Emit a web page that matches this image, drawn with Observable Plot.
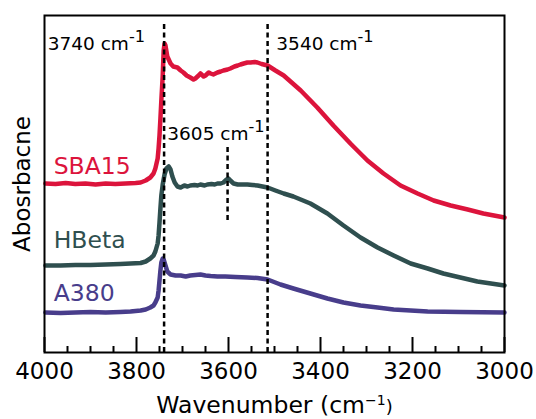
<!DOCTYPE html>
<html>
<head>
<meta charset="utf-8">
<script src="https://cdn.jsdelivr.net/npm/d3@7"></script>
<script src="https://cdn.jsdelivr.net/npm/@observablehq/plot@0.6"></script>
<style>
  html, body { margin: 0; padding: 0; background: white; }
  #chart svg { display: block; }
</style>
</head>
<body>
<div id="chart"></div>
<script>
// ---- Data ----
const seriesNames = ["SBA15", "HBeta", "A380"];
const seriesColors = ["#dc143c", "#2f4f4f", "#483d8b"];

const sba15Wn = [3998,3976,3954,3933,3911,3889,3867,3846,3824,3802,3791,3780,3770,3763,3759,3754,3752,3750,3748,3746,3743,3741,3739,3737,3733,3726,3720,3711,3704,3698,3691,3683,3676,3672,3665,3661,3654,3650,3643,3639,3633,3624,3617,3611,3602,3596,3587,3580,3574,3567,3559,3552,3543,3537,3528,3515,3498,3480,3443,3407,3372,3335,3298,3263,3226,3189,3154,3117,3080,3046,3000];
const sba15Abs = [1.69,1.685,1.695,1.685,1.69,1.68,1.69,1.685,1.69,1.695,1.70,1.72,1.75,1.79,1.84,1.94,2.04,2.17,2.34,2.52,2.77,3.02,3.09,3.07,2.96,2.89,2.86,2.85,2.82,2.80,2.77,2.75,2.73,2.74,2.77,2.79,2.76,2.77,2.80,2.79,2.78,2.80,2.81,2.82,2.83,2.84,2.86,2.87,2.88,2.89,2.90,2.90,2.905,2.90,2.885,2.87,2.82,2.77,2.62,2.45,2.27,2.09,1.92,1.79,1.67,1.59,1.52,1.47,1.43,1.39,1.35];

const hbetaWn = [3998,3965,3933,3900,3867,3835,3813,3791,3780,3770,3763,3759,3754,3752,3750,3748,3746,3743,3739,3735,3730,3726,3722,3717,3711,3704,3696,3689,3683,3674,3667,3661,3652,3646,3637,3630,3624,3617,3611,3604,3600,3596,3589,3580,3570,3559,3548,3537,3526,3515,3498,3480,3459,3422,3385,3350,3313,3276,3241,3204,3167,3133,3096,3059,3000];
const hbetaAbs = [0.87,0.87,0.875,0.875,0.88,0.885,0.89,0.895,0.91,0.94,0.97,1.01,1.09,1.17,1.30,1.44,1.57,1.68,1.78,1.84,1.86,1.83,1.76,1.70,1.66,1.65,1.67,1.66,1.67,1.675,1.67,1.68,1.67,1.68,1.685,1.68,1.69,1.69,1.70,1.73,1.74,1.72,1.69,1.68,1.68,1.68,1.675,1.67,1.66,1.65,1.62,1.59,1.56,1.49,1.39,1.27,1.15,1.05,0.97,0.89,0.84,0.79,0.75,0.71,0.67];

const a380Wn = [3998,3965,3933,3900,3867,3835,3813,3791,3780,3770,3763,3759,3754,3752,3750,3748,3746,3743,3741,3737,3733,3726,3715,3704,3693,3683,3672,3661,3650,3639,3624,3607,3585,3559,3537,3515,3487,3459,3422,3385,3350,3313,3276,3241,3204,3167,3096,3000];
const a380Abs = [0.40,0.395,0.40,0.405,0.40,0.405,0.41,0.42,0.43,0.45,0.47,0.50,0.55,0.62,0.72,0.82,0.90,0.94,0.93,0.87,0.81,0.78,0.77,0.77,0.76,0.77,0.775,0.78,0.77,0.765,0.76,0.76,0.755,0.75,0.745,0.73,0.68,0.64,0.59,0.54,0.50,0.47,0.45,0.43,0.42,0.41,0.405,0.40];

const majorTicks = [4000, 3800, 3600, 3400, 3200, 3000];
const minorTicks = [3950, 3900, 3850, 3750, 3700, 3650, 3550, 3500, 3450, 3350, 3300, 3250, 3150, 3100, 3050];

const peakLabels = ["3740 cm-1", "3540 cm-1", "3605 cm-1"];
const peakLines = [3740, 3515, 3602];

// ---- Build tables ----
const wns = [sba15Wn, hbetaWn, a380Wn];
const abss = [sba15Abs, hbetaAbs, a380Abs];
const seriesData = seriesNames.map((name, i) =>
  wns[i].map((wn, j) => ({series: name, wn, abs: abss[i][j]})));

const lineMarks = seriesData.map((data, i) =>
  Plot.line(data, {x: "wn", y: "abs", stroke: seriesColors[i], strokeWidth: 4.5,
                   strokeLinejoin: "round", strokeLinecap: "round"}));

// series label anchor points (wavenumber, absorbance of text baseline)
const seriesLabelPos = [[3980, 1.79], [3980, 1.05], [3980, 0.52]];
const seriesLabelMarks = seriesNames.map((name, i) =>
  Plot.text([name], {x: () => seriesLabelPos[i][0], y: () => seriesLabelPos[i][1], text: d => d,
    fill: seriesColors[i], fontSize: 23.5, textAnchor: "start", lineAnchor: "bottom"}));

const peakLabelPos = [[3993, 3.03], [3496, 3.03], [3733, 2.125]];
const peakLabelMarks = peakLabels.map((lab, i) =>
  Plot.text([lab], {x: () => peakLabelPos[i][0], y: () => peakLabelPos[i][1], text: d => d,
    fill: "black", fontSize: 18.5, textAnchor: "start", lineAnchor: "bottom"}));

const chart = Plot.plot({
  width: 536,
  height: 419,
  marginTop: 15,
  marginRight: 32,
  marginBottom: 67,
  marginLeft: 44,
  style: {fontFamily: "DejaVu Sans", background: "white", color: "black", overflow: "visible"},
  x: {domain: [4000, 3000]},
  y: {domain: [0, 3.37], axis: null},
  marks: [
    ...lineMarks,
    Plot.ruleX(peakLines.slice(0, 2), {y1: 0, y2: 3.29, stroke: "black", strokeWidth: 2.5, strokeDasharray: "5,3.5"}),
    Plot.ruleX(peakLines.slice(2), {y1: 1.32, y2: 2.05, stroke: "black", strokeWidth: 2.5, strokeDasharray: "5,3.5"}),
    Plot.ruleX(majorTicks, {insetTop: 322, stroke: "black", strokeWidth: 2}),
    Plot.ruleX(minorTicks, {insetTop: 331, stroke: "black", strokeWidth: 2}),
    Plot.axisX({ticks: majorTicks, tickSize: 0, tickPadding: 10, fontSize: 23, label: null,
                tickFormat: d => String(d)}),
    Plot.frame({stroke: "black", strokeWidth: 2}),
    ...seriesLabelMarks,
    ...peakLabelMarks,
    Plot.text(["Wavenumber (cm−1)"], {frameAnchor: "bottom", dy: 60, fontSize: 23.5, textAnchor: "middle", lineAnchor: "bottom", fill: "black"}),
    Plot.text(["Abosrbacne"], {frameAnchor: "left", dx: -22, rotate: -90, fontSize: 23, textAnchor: "middle", lineAnchor: "middle", fill: "black"})
  ]
});

// superscripts for "cm-1" / "cm−1"
d3.select(chart).selectAll("text").each(function() {
  const t = this.textContent;
  const m = t.match(/^(.*cm)([-−]1)(\)?)$/);
  if (!m) return;
  const fs = parseFloat(getComputedStyle(this).fontSize) || parseFloat(this.getAttribute("font-size")) || 18;
  const big = m[3] ? true : false;
  const supSize = big ? fs * 0.78 : fs * 0.9;
  const rise = big ? fs * 0.4 : fs * 0.44;
  const sel = d3.select(this);
  sel.text(null);
  sel.append("tspan").text(m[1]);
  sel.append("tspan").attr("dy", -rise).attr("font-size", supSize).text(m[2]);
  if (m[3]) sel.append("tspan").attr("dy", rise).attr("font-size", fs).text(m[3]);
});

document.getElementById("chart").appendChild(chart);
</script>
</body>
</html>
